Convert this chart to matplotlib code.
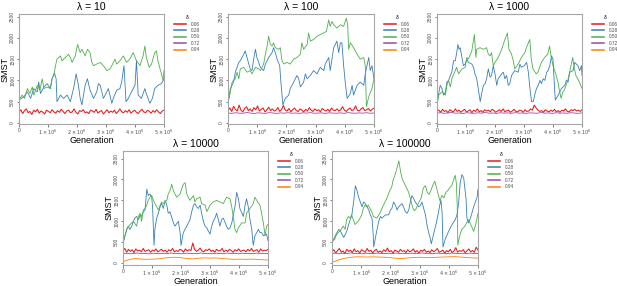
import numpy as np
import matplotlib
matplotlib.use("Agg")
import matplotlib.pyplot as plt

plt.rcParams['font.family'] = ['Liberation Sans', 'DejaVu Sans']

# Legend / series
deltas = ["0.06", "0.28", "0.50", "0.72", "0.94"]
colors = ["#E41A1C", "#377EB8", "#4DAF4A", "#984EA3", "#FF7F00"]
titles = ["\u03bb = 10", "\u03bb = 100", "\u03bb = 1000", "\u03bb = 10000", "\u03bb = 100000"]
yticks = [0, 500, 1000, 1500, 2000, 2500]
xticks = [0, 1e6, 2e6, 3e6, 4e6, 5e6]
xticklabels = ["0", r"$1\times10^6$", r"$2\times10^6$", r"$3\times10^6$", r"$4\times10^6$", r"$5\times10^6$"]

# ---- lambda = 10 ----  (generation in millions)
p1_green_gen = [0.00, 0.11, 0.19, 0.29, 0.38, 0.46, 0.51, 0.63, 0.72, 0.80, 0.86, 0.97, 1.08, 1.14, 1.20, 1.26, 1.31, 1.43, 1.48, 1.60,
                1.71, 1.77, 1.83, 1.94, 2.02, 2.11, 2.17, 2.28, 2.36, 2.45, 2.51, 2.57, 2.68, 2.80, 2.91, 3.03, 3.14, 3.20, 3.31, 3.37,
                3.48, 3.60, 3.71, 3.82, 3.94, 4.05, 4.17, 4.28, 4.34, 4.39, 4.49, 4.57, 4.68, 4.74, 4.79, 4.91, 4.97, 5.00]
p1_green = [538, 654, 577, 807, 692, 846, 654, 884, 769, 1038, 807, 846, 807, 1038, 1115, 1346, 1500, 1576, 1461, 1538,
            1615, 1538, 1423, 1576, 1846, 1653, 1730, 1576, 1730, 1653, 1423, 1346, 1384, 1423, 1346, 1230, 1269, 1346, 1500, 1384,
            1461, 1576, 1423, 1500, 1653, 1461, 1346, 1576, 1807, 1538, 1307, 1384, 1653, 1692, 1461, 1153, 1000, 1230]
p1_blue_gen = [0.00, 0.08, 0.17, 0.29, 0.40, 0.51, 0.63, 0.68, 0.74, 0.86, 0.97, 1.08, 1.14, 1.22, 1.28, 1.31, 1.43, 1.54, 1.66, 1.77,
               1.88, 1.97, 2.05, 2.11, 2.17, 2.28, 2.36, 2.45, 2.57, 2.68, 2.74, 2.80, 2.91, 3.00, 3.08, 3.20, 3.25, 3.37, 3.48, 3.54,
               3.62, 3.69, 3.77, 3.88, 4.00, 4.05, 4.11, 4.22, 4.34, 4.39, 4.51, 4.60, 4.68, 4.79, 4.91, 5.00]
p1_blue = [538, 577, 615, 730, 577, 807, 730, 961, 692, 846, 923, 807, 1038, 1176, 1038, 500, 654, 577, 654, 500,
           807, 1153, 884, 577, 423, 884, 1038, 769, 577, 730, 923, 884, 577, 692, 807, 461, 577, 769, 807, 961,
           1346, 500, 577, 730, 884, 1461, 654, 577, 807, 692, 461, 577, 807, 884, 923, 1038]
p1_red = [250, 310, 220, 290, 330, 240, 270, 200, 300, 260, 320, 230, 280, 250, 210, 300, 270, 240, 310, 260,
          230, 290, 250, 320, 270, 220, 280, 300, 240, 260, 330, 250, 210, 290, 270, 310, 240, 260, 220, 300,
          280, 250, 320, 230, 270, 290, 210, 260, 310, 240, 280, 250, 300, 220, 270, 330, 260, 240, 290, 250,
          310, 230, 270, 300, 250, 220, 280, 320, 260, 240, 300, 270, 230, 290, 250, 310, 260, 220, 280, 300]

# ---- lambda = 100 ----
p2_green_gen = [0.00, 0.08, 0.14, 0.19, 0.25, 0.31, 0.37, 0.42, 0.54, 0.65, 0.76, 0.82, 0.94, 1.05, 1.11, 1.22, 1.28, 1.34, 1.39, 1.45,
                1.51, 1.56, 1.62, 1.74, 1.79, 1.85, 1.91, 2.02, 2.13, 2.25, 2.36, 2.48, 2.53, 2.59, 2.71, 2.76, 2.82, 2.93, 3.05, 3.16,
                3.28, 3.37, 3.45, 3.50, 3.56, 3.62, 3.73, 3.85, 3.96, 4.05, 4.10, 4.13, 4.19, 4.30, 4.42, 4.53, 4.65, 4.70, 4.74, 4.82,
                4.93, 5.00]
p2_green = [461, 730, 961, 1000, 1038, 1192, 1038, 1269, 1307, 1192, 1230, 1153, 1307, 1269, 1230, 1384, 1615, 1807, 2038, 1846,
            1807, 1884, 1769, 1730, 1769, 1461, 1384, 1423, 1384, 1500, 1538, 1615, 1884, 1730, 1846, 2115, 1923, 1961, 2038, 2076,
            2115, 2153, 2423, 2269, 2384, 2307, 2230, 2307, 2269, 2461, 2307, 1730, 1884, 1769, 1615, 1500, 1538, 1346, 385, 615,
            807, 1038]
p2_blue_gen = [0.00, 0.08, 0.19, 0.25, 0.31, 0.37, 0.42, 0.54, 0.59, 0.65, 0.76, 0.82, 0.88, 0.94, 0.99, 1.11, 1.22, 1.28, 1.34, 1.39,
               1.51, 1.56, 1.62, 1.68, 1.77, 1.82, 1.88, 1.96, 2.08, 2.13, 2.25, 2.36, 2.42, 2.48, 2.59, 2.65, 2.71, 2.82, 2.93, 3.05,
               3.16, 3.28, 3.33, 3.39, 3.45, 3.50, 3.62, 3.73, 3.79, 3.85, 3.90, 3.96, 4.02, 4.08, 4.19, 4.25, 4.30, 4.42, 4.53, 4.65,
               4.70, 4.82, 4.87, 4.93, 5.00]
p2_blue = [461, 807, 961, 1192, 1307, 1423, 1461, 1615, 1692, 1538, 1269, 1230, 1500, 1730, 1538, 1307, 1230, 1384, 1461, 1538,
           1653, 1769, 1653, 1500, 1346, 884, 423, 577, 654, 807, 961, 1115, 1038, 846, 961, 1153, 1038, 1115, 1230, 1153,
           1307, 1230, 1384, 1461, 1538, 1230, 1769, 1923, 1653, 1884, 1884, 1346, 923, 577, 692, 884, 654, 884, 961, 884,
           1153, 1538, 1230, 1346, 1038]
p2_red = [300, 350, 270, 390, 320, 280, 420, 300, 260, 340, 380, 290, 330, 270, 360, 310, 400, 280, 320, 350,
          260, 310, 370, 290, 330, 280, 300, 360, 270, 320, 410, 300, 280, 340, 260, 310, 350, 290, 270, 330,
          300, 260, 320, 280, 360, 300, 270, 330, 290, 310, 260, 340, 300, 280, 320, 270, 350, 300, 290, 330,
          280, 310, 380, 300, 270, 320, 350, 290, 310, 400, 300, 280, 330, 360, 290, 310, 340, 280, 320, 350]
p2_purple = [235, 225, 240, 230, 228, 245, 232, 222, 238, 230, 226, 242, 234, 224, 236, 230, 240, 228, 233, 225,
             238, 230, 244, 227, 232, 236, 224, 240, 231, 229, 237, 226, 242, 233, 228, 236, 230, 240, 227, 234]

# ---- lambda = 1000 ----
p3_green_gen = [0.00, 0.06, 0.17, 0.29, 0.34, 0.40, 0.46, 0.51, 0.63, 0.68, 0.74, 0.86, 0.97, 1.03, 1.08, 1.20, 1.29, 1.34, 1.37, 1.48,
                1.60, 1.71, 1.77, 1.83, 1.88, 1.94, 2.00, 2.11, 2.23, 2.34, 2.43, 2.48, 2.57, 2.63, 2.68, 2.80, 2.91, 3.03, 3.08, 3.20,
                3.25, 3.31, 3.42, 3.48, 3.60, 3.71, 3.82, 3.88, 3.94, 4.00, 4.11, 4.17, 4.22, 4.28, 4.34, 4.39, 4.51, 4.57, 4.62, 4.68,
                4.74, 4.79, 4.91, 5.00]
p3_green = [461, 654, 730, 654, 884, 1000, 846, 1038, 1230, 1307, 1153, 1269, 1307, 1538, 1500, 1692, 2076, 1538, 1730, 1769,
            1730, 1769, 1615, 1576, 1653, 1346, 1423, 1538, 1730, 1961, 2115, 1730, 1615, 1461, 1269, 1384, 1538, 1653, 1769, 1961,
            1500, 1269, 1153, 1192, 1423, 1538, 1615, 1807, 1538, 1346, 1115, 961, 769, 577, 730, 769, 1000, 1192, 1346, 1538,
            1269, 1115, 961, 807]
p3_blue_gen = [0.00, 0.06, 0.11, 0.17, 0.23, 0.29, 0.34, 0.40, 0.46, 0.51, 0.57, 0.63, 0.68, 0.72, 0.76, 0.80, 0.86, 0.91, 0.97, 1.03,
               1.08, 1.20, 1.26, 1.31, 1.37, 1.43, 1.49, 1.54, 1.60, 1.66, 1.71, 1.77, 1.83, 1.88, 1.94, 2.00, 2.06, 2.11, 2.23, 2.29,
               2.34, 2.40, 2.46, 2.51, 2.57, 2.68, 2.80, 2.86, 2.91, 3.01, 3.09, 3.15, 3.20, 3.26, 3.32, 3.38, 3.43, 3.49, 3.55, 3.60,
               3.66, 3.72, 3.78, 3.83, 3.89, 3.95, 4.00, 4.06, 4.08, 4.18, 4.29, 4.41, 4.46, 4.52, 4.58, 4.69, 4.75, 4.86, 4.92, 4.98,
               5.00]
p3_blue = [423, 692, 884, 807, 654, 730, 961, 1000, 1115, 1192, 1461, 1461, 1653, 1846, 1730, 1769, 1538, 1346, 1384, 1500,
           1423, 1384, 1307, 1153, 1038, 769, 500, 692, 884, 923, 1038, 1269, 1076, 1115, 1346, 1153, 884, 1038, 1153, 1192,
           1038, 1115, 884, 923, 1115, 1230, 1192, 1384, 1307, 1346, 1423, 1192, 846, 500, 500, 692, 807, 884, 1000, 923,
           1038, 1000, 1192, 1230, 1346, 1576, 1500, 730, 538, 654, 807, 884, 1000, 961, 1192, 1230, 1423, 1346, 1230, 1346,
           1115]
p3_red = [280, 300, 250, 320, 270, 290, 240, 310, 280, 260, 330, 270, 300, 250, 290, 320, 260, 280, 310, 240,
          300, 270, 330, 260, 290, 250, 310, 280, 300, 260, 320, 290, 250, 280, 310, 270, 330, 260, 290, 300,
          250, 280, 320, 270, 260, 300, 290, 250, 310, 270, 280, 330, 300, 420, 350, 300, 270, 290, 250, 310,
          280, 260, 300, 270, 320, 260, 290, 250, 300, 280, 330, 270, 260, 310, 290, 320, 280, 300, 270, 310]
p3_purple = [230, 240, 226, 236, 244, 228, 234, 222, 240, 232, 226, 238, 230, 245, 228, 235, 224, 240, 231, 236,
             226, 242, 230, 234, 225, 238, 232, 228, 244, 230, 236, 224, 240, 229, 235, 227, 241, 232, 226, 236]

# ---- lambda = 10000 ----
p4_green_gen = [0.00, 0.13, 0.24, 0.36, 0.47, 0.53, 0.59, 0.64, 0.70, 0.76, 0.82, 0.87, 0.93, 0.99, 1.05, 1.16, 1.22, 1.28, 1.33, 1.39,
                1.51, 1.56, 1.62, 1.68, 1.74, 1.79, 1.85, 1.97, 2.02, 2.08, 2.14, 2.20, 2.25, 2.31, 2.43, 2.48, 2.54, 2.66, 2.71, 2.83,
                2.89, 3.00, 3.11, 3.23, 3.34, 3.46, 3.57, 3.69, 3.75, 3.80, 3.86, 3.92, 3.98, 4.09, 4.21, 4.26, 4.38, 4.49, 4.55, 4.61,
                4.72, 4.78, 4.84, 4.90, 4.95, 5.00]
p4_green = [500, 807, 923, 1000, 884, 1115, 1192, 1000, 1269, 1307, 1384, 1500, 1576, 1615, 1500, 1346, 1269, 1384, 1461, 1423,
            1500, 1653, 1730, 1884, 1730, 1653, 1576, 1653, 1769, 1884, 1923, 1653, 1576, 1500, 1615, 1461, 1538, 1576, 1423, 1384,
            1230, 1384, 1461, 1500, 1461, 1423, 1576, 1538, 1346, 1115, 807, 730, 846, 961, 961, 1192, 1307, 1423, 1576, 1500,
            1384, 1192, 961, 654, 884, 923]
p4_blue_gen = [0.00, 0.07, 0.13, 0.18, 0.24, 0.30, 0.36, 0.41, 0.47, 0.53, 0.59, 0.64, 0.70, 0.76, 0.82, 0.87, 0.93, 0.99, 1.02, 1.07,
               1.10, 1.16, 1.22, 1.28, 1.33, 1.39, 1.45, 1.51, 1.56, 1.62, 1.74, 1.79, 1.91, 1.97, 2.00, 2.08, 2.14, 2.20, 2.31, 2.37,
               2.43, 2.48, 2.54, 2.60, 2.66, 2.71, 2.77, 2.83, 2.89, 2.94, 3.00, 3.06, 3.11, 3.17, 3.23, 3.29, 3.34, 3.40, 3.46, 3.57,
               3.63, 3.69, 3.75, 3.86, 3.92, 3.98, 4.03, 4.15, 4.21, 4.26, 4.32, 4.38, 4.44, 4.49, 4.55, 4.61, 4.67, 4.72, 4.78, 4.84,
               4.95, 5.00]
p4_blue = [461, 654, 807, 884, 807, 884, 1000, 1076, 1115, 1038, 1153, 1115, 1230, 1269, 1769, 1615, 1653, 1576, 1346, 423,
           807, 1076, 1192, 1346, 1423, 1307, 1500, 1384, 1192, 1230, 961, 884, 1000, 730, 423, 730, 807, 884, 1038, 1230,
           1384, 1423, 1346, 1307, 1384, 1192, 1000, 884, 846, 769, 692, 884, 1000, 1076, 1192, 1038, 884, 1038, 1076, 884,
           807, 846, 961, 1346, 1692, 1538, 1307, 1115, 1384, 1538, 1346, 1038, 807, 423, 654, 730, 807, 730, 730, 654,
           692, 538]
p4_red = [300, 350, 260, 330, 280, 320, 250, 340, 290, 310, 270, 350, 280, 300, 320, 260, 310, 290, 340, 270,
          300, 330, 280, 310, 260, 320, 290, 350, 270, 300, 280, 330, 310, 260, 340, 290, 320, 300, 480, 330,
          280, 310, 360, 290, 270, 320, 300, 340, 280, 310, 260, 330, 290, 300, 350, 270, 310, 280, 330, 300,
          260, 320, 290, 340, 280, 300, 310, 270, 330, 290, 350, 280, 300, 320, 260, 340, 290, 310, 300, 330]
p4_purple = [228, 236, 222, 232, 240, 226, 230, 220, 238, 228, 224, 235, 230, 242, 226, 233, 222, 238, 229, 234,
             224, 240, 228, 232, 223, 236, 230, 226, 241, 228, 234, 222, 238, 227, 233, 225, 239, 230, 224, 232]
p4_orange = [35, 80, 110, 100, 90, 95, 100, 120, 135, 140, 130, 110, 100, 115, 125, 120, 125, 110, 100, 90,
             95, 90, 95, 90, 80, 75]

# ---- lambda = 100000 ----
p5_green_gen = [0.00, 0.10, 0.16, 0.27, 0.39, 0.45, 0.50, 0.56, 0.62, 0.67, 0.73, 0.79, 0.84, 0.90, 0.96, 1.02, 1.07, 1.13, 1.19, 1.24,
                1.30, 1.36, 1.42, 1.53, 1.64, 1.76, 1.87, 2.00, 2.04, 2.10, 2.16, 2.21, 2.29, 2.35, 2.41, 2.47, 2.55, 2.62, 2.70, 2.76,
                2.82, 2.88, 2.95, 3.05, 3.13, 3.20, 3.26, 3.32, 3.38, 3.45, 3.52, 3.58, 3.64, 3.70, 3.76, 3.83, 3.90, 3.97, 4.03, 4.10,
                4.16, 4.22, 4.26, 4.29, 4.31, 4.36, 4.44, 4.55, 4.67, 4.78, 4.85, 4.92, 5.00]
p5_green = [500, 577, 692, 769, 884, 807, 1038, 1115, 1076, 1153, 1038, 923, 961, 1000, 1076, 1153, 1307, 1384, 1346, 1384,
            1307, 1230, 1115, 1076, 1192, 1384, 1538, 1769, 1807, 2000, 2115, 2230, 2446, 2180, 2000, 1920, 1800, 1700, 1500, 1330,
            1250, 1300, 1420, 1550, 1800, 1850, 1700, 1640, 1720, 1860, 1960, 1800, 1640, 1480, 1620, 1560, 1690, 1740, 1800, 1850,
            1980, 2100, 1900, 1350, 430, 620, 800, 880, 1040, 880, 760, 920, 1190]
p5_blue_gen = [0.00, 0.06, 0.11, 0.17, 0.23, 0.29, 0.34, 0.40, 0.46, 0.51, 0.57, 0.68, 0.74, 0.80, 0.86, 0.91, 0.97, 1.03, 1.08, 1.14,
               1.20, 1.26, 1.31, 1.37, 1.41, 1.43, 1.51, 1.60, 1.66, 1.71, 1.83, 1.94, 2.00, 2.05, 2.11, 2.17, 2.23, 2.28, 2.40, 2.45,
               2.51, 2.57, 2.63, 2.68, 2.74, 2.80, 2.85, 2.97, 3.03, 3.08, 3.14, 3.20, 3.25, 3.31, 3.37, 3.40, 3.48, 3.56, 3.63, 3.69,
               3.73, 3.77, 3.80, 3.88, 4.00, 4.11, 4.22, 4.28, 4.34, 4.39, 4.45, 4.51, 4.54, 4.59, 4.62, 4.68, 4.74, 4.79, 4.85, 4.91,
               4.97, 5.00]
p5_blue = [500, 577, 654, 730, 807, 769, 692, 615, 692, 769, 923, 1153, 1461, 1846, 1730, 1576, 1461, 1346, 1461, 1423,
           1346, 1269, 1153, 1076, 692, 385, 692, 1000, 1115, 1076, 1153, 1153, 1269, 1307, 1461, 1384, 1269, 1346, 1423, 1346,
           1230, 1192, 1269, 1461, 1615, 1538, 1461, 1346, 1384, 1461, 1307, 1153, 923, 730, 577, 461, 692, 923, 1153, 1384,
           1500, 1230, 385, 577, 769, 923, 1038, 1153, 1461, 1923, 2115, 2038, 1846, 1538, 1076, 961, 1076, 1192, 1346, 1461,
           1576, 1769]
p5_red = [270, 320, 240, 300, 350, 260, 290, 230, 330, 280, 310, 250, 340, 270, 300, 240, 320, 290, 260, 350,
          280, 310, 240, 300, 330, 260, 290, 250, 320, 280, 360, 270, 300, 240, 310, 290, 260, 330, 280, 300,
          250, 320, 270, 290, 340, 260, 300, 240, 310, 280, 330, 260, 290, 250, 320, 270, 300, 350, 260, 280,
          310, 240, 300, 270, 330, 250, 290, 370, 260, 300, 280, 320, 250, 290, 340, 270, 300, 260, 380, 310]
p5_purple = [232, 240, 226, 236, 230, 244, 228, 234, 222, 238, 230, 226, 240, 232, 228, 236, 224, 242, 230, 234,
             226, 238, 232, 228, 244, 230, 236, 224, 240, 231, 235, 227, 241, 232, 226, 236, 230, 240, 228, 234]
p5_orange = [20, 70, 110, 135, 150, 150, 145, 150, 145, 140, 130, 115, 110, 125, 135, 140, 135, 130, 140, 145,
             150, 155, 145, 135, 125, 120]

panels = [
    dict(title=titles[0], red=p1_red, purple=None, orange=None,
         blue=(p1_blue_gen, p1_blue), green=(p1_green_gen, p1_green)),
    dict(title=titles[1], red=p2_red, purple=p2_purple, orange=None,
         blue=(p2_blue_gen, p2_blue), green=(p2_green_gen, p2_green)),
    dict(title=titles[2], red=p3_red, purple=p3_purple, orange=None,
         blue=(p3_blue_gen, p3_blue), green=(p3_green_gen, p3_green)),
    dict(title=titles[3], red=p4_red, purple=p4_purple, orange=p4_orange,
         blue=(p4_blue_gen, p4_blue), green=(p4_green_gen, p4_green)),
    dict(title=titles[4], red=p5_red, purple=p5_purple, orange=p5_orange,
         blue=(p5_blue_gen, p5_blue), green=(p5_green_gen, p5_green)),
]

W, H = 617, 286
# axes boxes in pixels: left, right, top, bottom
boxes = [(19, 164, 14, 124), (228, 374, 14, 124), (437, 582, 14, 124),
         (123, 268, 151, 265), (332, 478, 151, 265)]
ylims = [(-25, 2560)] * 3 + [(-45, 2680)] * 2

fig = plt.figure(figsize=(W / 100, H / 100), dpi=100)
frame = "#a6a6a6"
lw = 0.6


def even(vals):
    # samples taken at equal generation steps over the run
    return np.linspace(0, 5e6, len(vals))


for p, (l, r, t, b), yl in zip(panels, boxes, ylims):
    ax = fig.add_axes([l / W, 1 - b / H, (r - l) / W, (b - t) / H])

    ax.plot(even(p["red"]), p["red"], color=colors[0], lw=0.75, label=deltas[0])
    ax.plot(np.array(p["blue"][0]) * 1e6, p["blue"][1], color=colors[1], lw=lw, label=deltas[1])
    ax.plot(np.array(p["green"][0]) * 1e6, p["green"][1], color=colors[2], lw=lw, label=deltas[2])
    if p["purple"] is not None:
        ax.plot(even(p["purple"]), p["purple"], color=colors[3], lw=lw, label=deltas[3])
    else:
        ax.plot([], [], color=colors[3], lw=lw, label=deltas[3])
    if p["orange"] is not None:
        ax.plot(even(p["orange"]), p["orange"], color=colors[4], lw=lw, label=deltas[4])
    else:
        ax.plot([], [], color=colors[4], lw=lw, label=deltas[4])

    ax.set_xlim(0, 5e6)
    ax.set_ylim(*yl)
    ax.set_xticks(xticks)
    ax.set_xticklabels(xticklabels)
    ax.set_yticks(yticks)
    ax.set_yticklabels([str(v) for v in yticks], rotation=90, va="center")
    ax.tick_params(labelsize=3.5, colors="#4d4d4d", length=1.8, width=0.5, pad=1)
    for s in ax.spines.values():
        s.set_color(frame)
        s.set_linewidth(0.8)
    ax.set_title(p["title"], fontsize=7.5, pad=3)
    ax.set_xlabel("Generation", fontsize=6.5, labelpad=-0.5)
    ax.set_ylabel("SMST", fontsize=6.5, labelpad=0.5)

    leg = ax.legend(title="\u03b4", loc="upper left", bbox_to_anchor=(1 + 10 / (r - l), 0.99),
                    frameon=False, fontsize=3.4, title_fontsize=3.6, handlelength=2.6,
                    handletextpad=0.9, labelspacing=0.3, borderaxespad=0, borderpad=0)
    for ln in leg.get_lines():
        ln.set_linewidth(1.1)
    for tx in leg.get_texts():
        tx.set_color("#4d4d4d")

fig.savefig("out.png", dpi=100)
